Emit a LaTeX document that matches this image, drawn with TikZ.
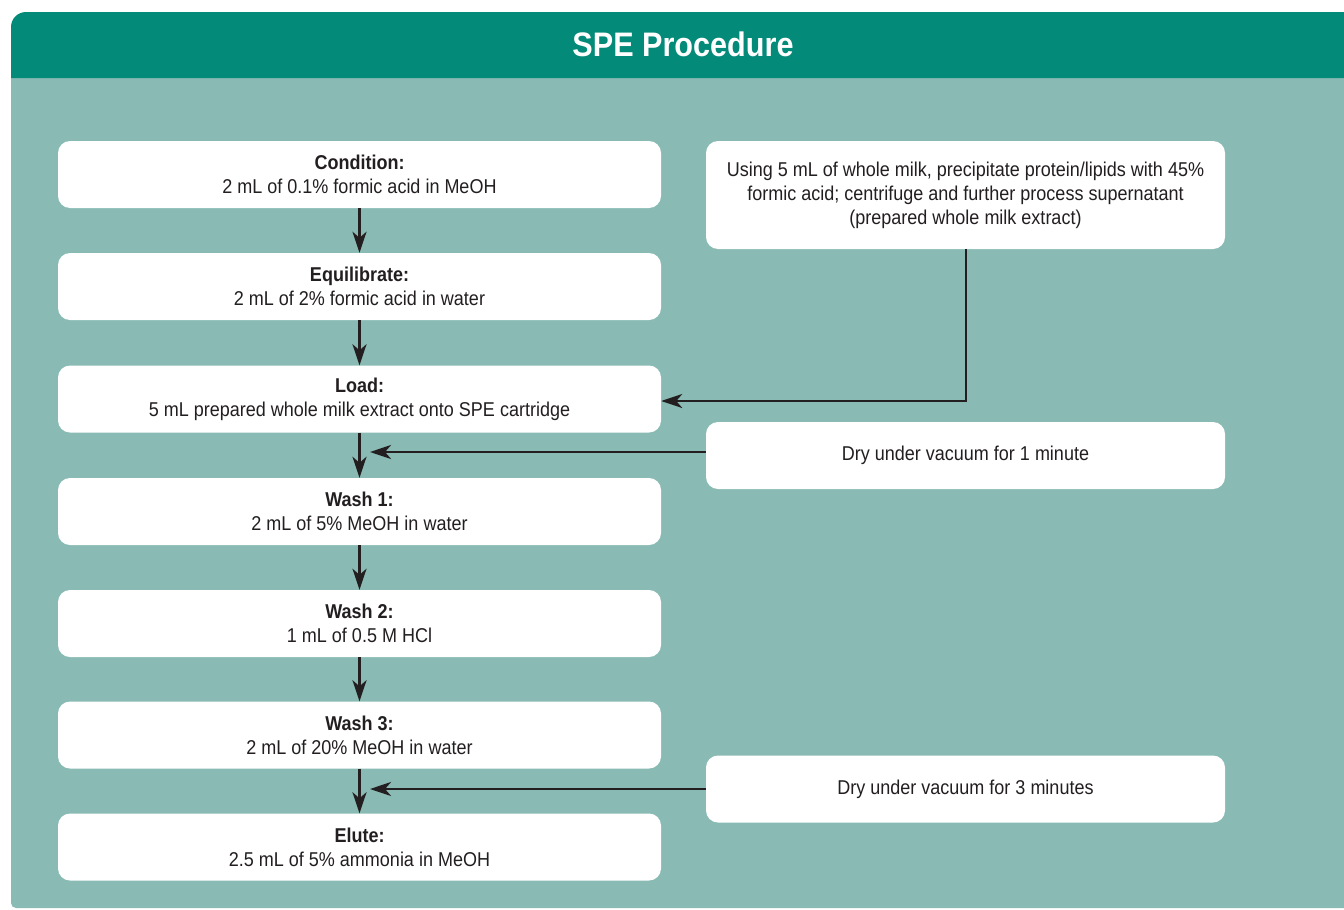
\documentclass[tikz,border=0pt]{standalone}
\usepackage{fontspec}
\setmainfont{Liberation Sans}[FakeStretch=0.9]
\usetikzlibrary{arrows.meta}
\definecolor{hdr}{HTML}{038A79}
\definecolor{panel}{HTML}{89BBB4}
\definecolor{ink}{HTML}{231F20}
\tikzset{
  stepbox/.style={draw=none,fill=white,rounded corners=12pt,minimum width=603pt,minimum height=67pt,
    align=center,text=ink,font=\fontsize{20}{24}\selectfont,inner sep=0pt},
  sidebox/.style={draw=none,fill=white,rounded corners=12pt,minimum width=519pt,
    align=center,text=ink,font=\fontsize{20}{24}\selectfont,inner sep=0pt},
  conn/.style={draw=ink,line width=2.8pt,-{Stealth[length=21pt,width=14pt,inset=6pt]}}
}
\begin{document}
\begin{tikzpicture}[x=1pt,y=-1pt]
\useasboundingbox (0,0) rectangle (1344,910);
\fill[white] (0,0) rectangle (1344,910);
% panel
\fill[panel] (1344,70) -- (11,70) [rounded corners=5pt] -- (11,908) [sharp corners] -- (1344,908) -- cycle;
\fill[hdr] (1344,78) -- (11,78) [rounded corners=15pt] -- (11,12) [sharp corners] -- (1344,12) -- cycle;
\node[text=white,font=\fontsize{34}{40}\selectfont\bfseries] (title) at (683,44) {SPE Procedure};
% step boxes
\node[stepbox] (s1) at (359.5,174.5) {\textbf{Condition:}\\2 mL of 0.1\% formic acid in MeOH};
\node[stepbox] (s2) at (359.5,286.5) {\textbf{Equilibrate:}\\2 mL of 2\% formic acid in water};
\node[stepbox] (s3) at (359.5,399) {\textbf{Load:}\\5 mL prepared whole milk extract onto SPE cartridge};
\node[stepbox] (s4) at (359.5,511.5) {\textbf{Wash 1:}\\2 mL of 5\% MeOH in water};
\node[stepbox] (s5) at (359.5,623.5) {\textbf{Wash 2:}\\1 mL of 0.5 M HCl};
\node[stepbox] (s6) at (359.5,735) {\textbf{Wash 3:}\\2 mL of 20\% MeOH in water};
\node[stepbox] (s7) at (359.5,847) {\textbf{Elute:}\\2.5 mL of 5\% ammonia in MeOH};
% side boxes
\node[sidebox,minimum height=108pt] (pre) at (965.5,195) {Using 5 mL of whole milk, precipitate protein/lipids with 45\%\\formic acid; centrifuge and further process supernatant\\(prepared whole milk extract)};
\node[sidebox,minimum height=67pt] (dry1) at (965.5,455.5) {Dry under vacuum for 1 minute};
\node[sidebox,minimum height=67pt] (dry2) at (965.5,789) {Dry under vacuum for 3 minutes};
% connectors
\draw[conn] (s1.south) -- (s2.north);
\draw[conn] (s2.south) -- (s3.north);
\draw[conn] (s3.south) -- (s4.north);
\draw[conn] (s4.south) -- (s5.north);
\draw[conn] (s5.south) -- (s6.north);
\draw[conn] (s6.south) -- (s7.north);
\coordinate (c1) at (966,401);
\draw[conn] (pre.south -| c1) -- (c1) -- (s3.east |- c1);
\coordinate (j1) at (370,452);
\draw[conn] (dry1.west |- j1) -- (j1);
\coordinate (j2) at (370,789);
\draw[conn] (dry2.west |- j2) -- (j2);
\end{tikzpicture}
\end{document}
